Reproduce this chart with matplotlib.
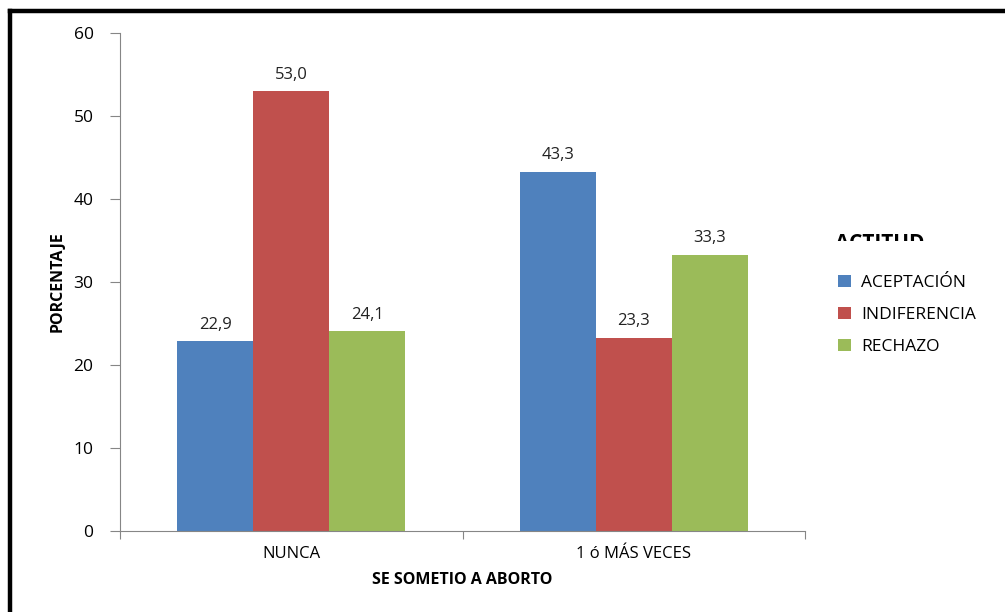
import numpy as np
import matplotlib
matplotlib.use('Agg')
import matplotlib.pyplot as plt
from matplotlib.lines import Line2D
from matplotlib.transforms import Bbox, TransformedBbox

plt.rcParams['font.family'] = ['Open Sans', 'DejaVu Sans']

categorias = ['NUNCA', '1 ó MÁS VECES']
aceptacion = [22.9, 43.3]
indiferencia = [53.0, 23.3]
rechazo = [24.1, 33.3]
series = ['ACEPTACIÓN', 'INDIFERENCIA', 'RECHAZO']
colores = ['#4f81bd', '#c0504d', '#9bbb59']

fig = plt.figure(figsize=(10.05, 6.12), dpi=100)
ax = fig.add_axes([120/1005, 81/612, 685/1005, 498/612])

x = np.arange(len(categorias))
w = 0.222
for i, (vals, nombre, col) in enumerate(zip([aceptacion, indiferencia, rechazo], series, colores)):
    barras = ax.bar(x + (i - 1)*w, vals, width=w, color=col, label=nombre)
    for b, v in zip(barras, vals):
        ax.annotate(f'{v:.1f}'.replace('.', ','), (b.get_x() + b.get_width()/2, v),
                    xytext=(0, 6), textcoords='offset points', ha='center', va='bottom',
                    fontsize=12, color='#222222')

ax.set_xlim(-0.5, 1.5)
ax.set_ylim(0, 60)
ax.set_yticks(range(0, 61, 10))
ax.set_xticks([-0.5, 0.5, 1.5], minor=False)
ax.set_xticklabels(['', '', ''])
ax.set_xticks(x, minor=True)
ax.set_xticklabels(categorias, minor=True, fontsize=12)
ax.tick_params(axis='x', which='minor', length=0, pad=11)
ax.tick_params(axis='x', which='major', length=6, color='#868686', direction='out')
ax.tick_params(axis='y', length=7, color='#868686', labelsize=12.5, pad=12)
for s in ['top', 'right']:
    ax.spines[s].set_visible(False)
for s in ['left', 'bottom']:
    ax.spines[s].set_color('#868686')

ax.set_ylabel('PORCENTAJE', fontsize=11.5, fontweight='bold', labelpad=6)
ax.set_xlabel('SE SOMETIO A ABORTO', fontsize=11.5, fontweight='bold', labelpad=7)

leg = fig.legend(loc='upper left', bbox_to_anchor=(822/1005, 1 - 259/612), frameon=False,
                 fontsize=12.5, handlelength=0.75, handleheight=0.75, handletextpad=0.6,
                 labelspacing=0.9)

# título de la leyenda cortado por arriba
t = fig.text(835/1005, 1 - 249/612, 'ACTITUD', fontsize=15, fontweight='bold', va='baseline')
t.set_clip_box(TransformedBbox(Bbox([[0.8, 1 - 241/612], [1.0, 1 - 200/612]]), fig.transFigure))
t.set_clip_on(True)

# marco negro
fig.add_artist(Line2D([10/1005, 1.0], [1 - 11/612, 1 - 11/612], color='black', lw=3.2,
                      transform=fig.transFigure))
fig.add_artist(Line2D([10/1005, 10/1005], [0, 1 - 11/612], color='black', lw=3.2,
                      transform=fig.transFigure))

fig.savefig('out.png', dpi=100)
